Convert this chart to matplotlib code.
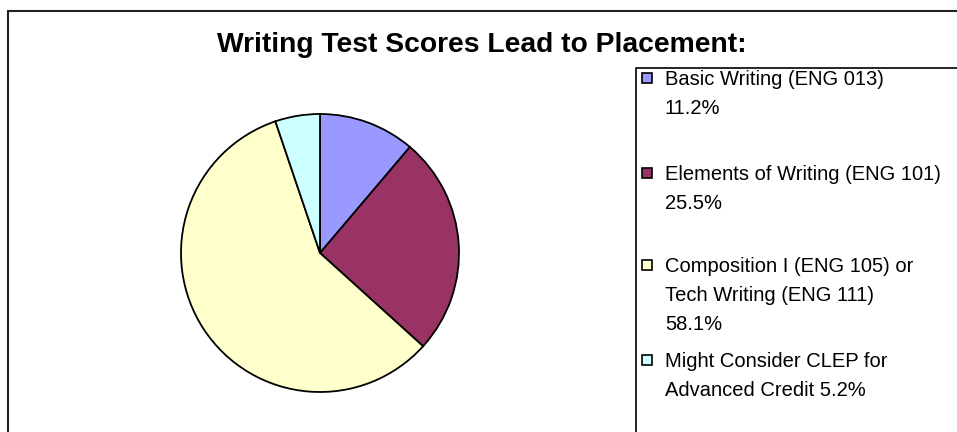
#!/usr/bin/env python
import matplotlib
matplotlib.use("Agg")
from matplotlib import pyplot as plt
from matplotlib.patches import Rectangle

# chart data
names = ["Basic Writing (ENG 013)",
         "Elements of Writing (ENG 101)",
         "Composition I (ENG 105) or\nTech Writing (ENG 111)",
         "Might Consider CLEP for\nAdvanced Credit"]
shares = [11.2, 25.5, 58.1, 5.2]
pct_sep = ["\n", "\n", "\n", " "]
colors = ["#9999FF", "#993366", "#FFFFCC", "#CCFFFF"]
title = "Writing Test Scores Lead to Placement:"

W, H = 957, 432


def fx(x):
    return x / W


def fy(y):
    # y measured from top, in pixels
    return 1 - y / H


def main():
    plt.rcParams["font.family"] = ["Liberation Sans", "DejaVu Sans"]
    fig = plt.figure(figsize=(W / 100, H / 100), dpi=100)

    # outer chart border
    fig.add_artist(Rectangle((fx(8), -0.1), 1.2, fy(11) + 0.1,
                             transform=fig.transFigure, fill=False,
                             ec="#222222", lw=1.5))

    fig.text(fx(482), fy(45), title, ha="center", va="center",
             fontsize=20.3, fontweight="bold")

    # pie
    cx, cy, r = 320, 253, 139
    side = 2 * r * 1.05
    ax = fig.add_axes([fx(cx - side / 2), fy(cy + side / 2),
                       side / W, side / H])
    ax.pie(shares, colors=colors, startangle=90, counterclock=False,
           radius=1, wedgeprops=dict(edgecolor="black", linewidth=1.3))
    ax.set_xlim(-1.05, 1.05)
    ax.set_ylim(-1.05, 1.05)
    ax.set_aspect("equal")
    ax.axis("off")

    # legend box
    fig.add_artist(Rectangle((fx(636), -0.1), 1.0, fy(68) + 0.1,
                             transform=fig.transFigure, fill=False,
                             ec="black", lw=1.2))
    entry_mid = [78, 173, 265, 360]
    msize = 9.5
    for name, val, sep, col, ym in zip(names, shares, pct_sep, colors,
                                        entry_mid):
        fig.add_artist(Rectangle((fx(642), fy(ym + msize / 2)),
                                 msize / W, msize / H,
                                 transform=fig.transFigure,
                                 fc=col, ec="black", lw=1.2))
        fig.text(fx(665), fy(ym - 8), f"{name}{sep}{val}%",
                 ha="left", va="top", fontsize=14.5, linespacing=1.65)

    fig.savefig("out.png", dpi=100, facecolor="white")


if __name__ == "__main__":
    main()
